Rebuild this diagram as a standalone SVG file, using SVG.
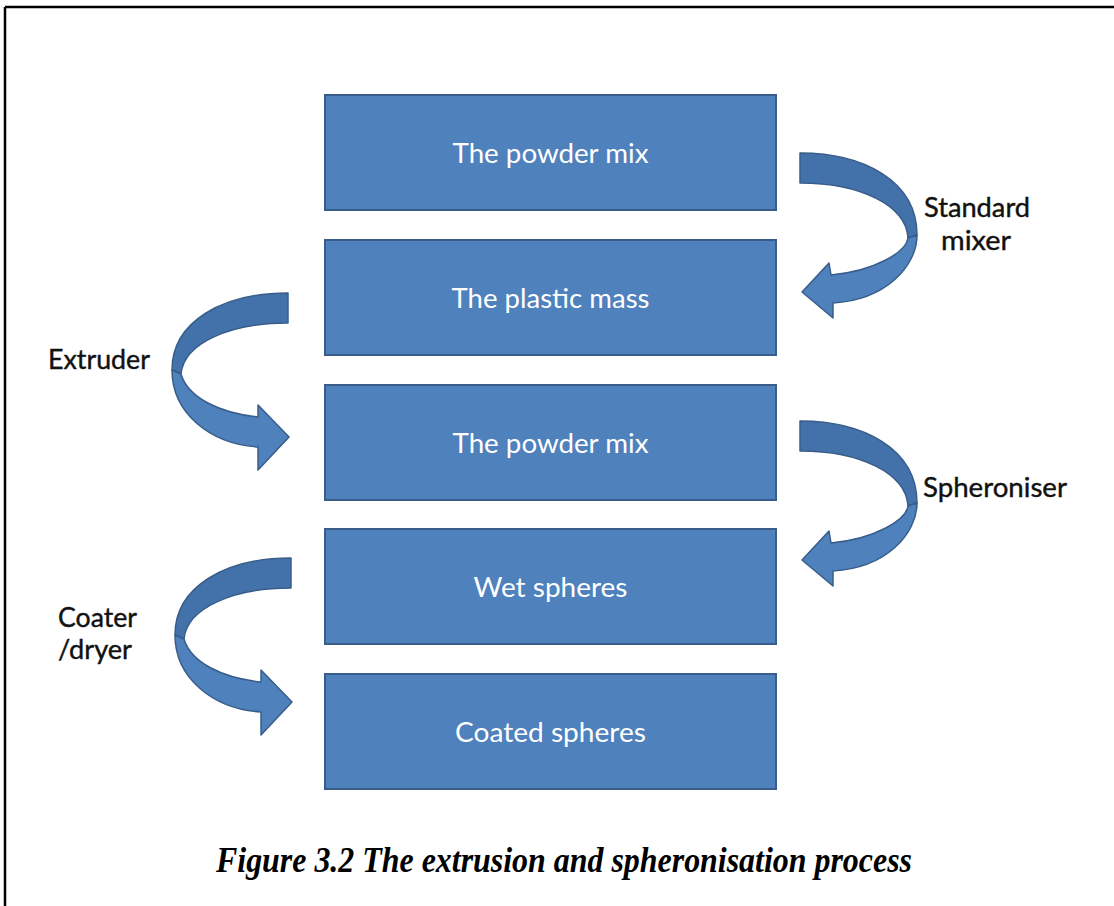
<svg xmlns="http://www.w3.org/2000/svg" width="1114" height="906" viewBox="0 0 1114 906">
<style>
.box{fill:#4f81bd;stroke:#385d8a;stroke-width:2}
.bt{font-family:Lato,"Open Sans","Liberation Sans",sans-serif;font-size:26px;fill:#ffffff;text-anchor:middle}
.lb{font-family:Lato,"Open Sans","Liberation Sans",sans-serif;font-size:27px;fill:#111111;stroke:#111111;stroke-width:0.4}
.back{fill:#4372ab;stroke:#385d8a;stroke-width:1.5;stroke-linejoin:round}
.front{fill:#4f81bd;stroke:#385d8a;stroke-width:1.5;stroke-linejoin:round}
.cap{font-family:"Liberation Serif","Times New Roman",serif;font-size:35px;font-weight:bold;font-style:italic;fill:#000}
</style>
<defs>
<g id="rarrow">
<path class="back" d="M 800,153 C 862,153 917,180 917,235 L 908,238 C 906,205 860,183 800,183 Z"/>
<path class="front" d="M 917,235 C 917,266 886,300 833,303 L 833,318 L 802,292 L 829,263 L 831,275 C 875,271 906,252 908,238 Z"/>
</g>
<g id="larrow">
<path class="back" d="M 288,293 C 222,293 172,322 172,370 L 181,374 C 184,343 230,323 288,323 Z"/>
<path class="front" d="M 172,370 C 172,413 210,444 258,447 L 258,470 L 289,437 L 258,405 L 258,417 C 220,413 188,398 181,374 Z"/>
</g>
</defs>
<rect width="1114" height="906" fill="#ffffff"/>
<g id="frame" stroke="#000" stroke-width="2.5" fill="none">
<line x1="5" y1="7" x2="1114" y2="7"/>
<line x1="5" y1="7" x2="5" y2="906"/>
</g>
<g id="connectors">
<use href="#rarrow"/>
<use href="#rarrow" transform="translate(0,268)"/>
<use href="#larrow"/>
<use href="#larrow" transform="translate(3,265)"/>
</g>
<g id="node1"><rect class="box" x="325" y="95" width="451" height="115"/><text class="bt" x="550.5" y="163" textLength="196" lengthAdjust="spacingAndGlyphs">The powder mix</text></g>
<g id="node2"><rect class="box" x="325" y="240" width="451" height="115"/><text class="bt" x="550.5" y="308" textLength="198" lengthAdjust="spacingAndGlyphs">The plastic mass</text></g>
<g id="node3"><rect class="box" x="325" y="385" width="451" height="115"/><text class="bt" x="550.5" y="453" textLength="196" lengthAdjust="spacingAndGlyphs">The powder mix</text></g>
<g id="node4"><rect class="box" x="325" y="529" width="451" height="115"/><text class="bt" x="550.5" y="597" textLength="154" lengthAdjust="spacingAndGlyphs">Wet spheres</text></g>
<g id="node5"><rect class="box" x="325" y="674" width="451" height="115"/><text class="bt" x="550.5" y="742" textLength="191" lengthAdjust="spacingAndGlyphs">Coated spheres</text></g>
<g id="labels">
<text class="lb" x="924" y="217" textLength="106" lengthAdjust="spacingAndGlyphs">Standard</text>
<text class="lb" x="941" y="250" textLength="70" lengthAdjust="spacingAndGlyphs">mixer</text>
<text class="lb" x="48" y="369" textLength="102" lengthAdjust="spacingAndGlyphs">Extruder</text>
<text class="lb" x="923" y="497" textLength="144" lengthAdjust="spacingAndGlyphs">Spheroniser</text>
<text class="lb" x="58" y="627" textLength="79" lengthAdjust="spacingAndGlyphs">Coater</text>
<text class="lb" x="58" y="659" textLength="74" lengthAdjust="spacingAndGlyphs">/dryer</text>
</g>
<text id="caption" class="cap" x="216" y="872" textLength="696" lengthAdjust="spacingAndGlyphs">Figure 3.2 The extrusion and spheronisation process</text>
</svg>
